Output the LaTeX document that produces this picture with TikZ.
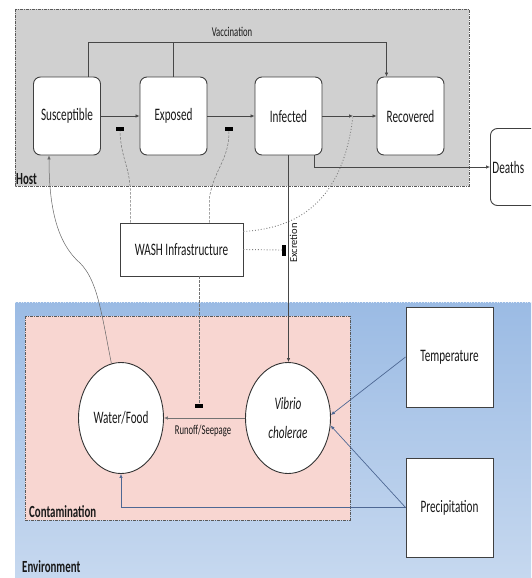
\documentclass[tikz,border=0pt]{standalone}
\usepackage{fontspec}
\setmainfont{Carlito}[FakeStretch=0.64]
\newfontfamily\plainfont{Carlito}
\usetikzlibrary{arrows.meta,calc,shapes.geometric}
\definecolor{hostgray}{RGB}{208,208,208}
\definecolor{envtop}{RGB}{155,187,228}
\definecolor{envbot}{RGB}{198,216,239}
\definecolor{contpink}{RGB}{248,214,209}
\definecolor{envline}{RGB}{78,104,148}
\definecolor{txt}{RGB}{25,25,25}
\begin{document}
\begin{tikzpicture}[x=1pt,y=-1pt,
  every node/.style={text=txt},
  state/.style={draw=black!75, line width=0.9pt, rounded corners=7pt, fill=white,
    minimum width=67, minimum height=78, inner sep=2pt, font=\fontsize{17.5}{20}\selectfont},
  box/.style={draw=black!75, line width=0.9pt, fill=white, inner sep=2pt,
    font=\fontsize{17.5}{20}\selectfont},
  circ/.style={ellipse, draw=black!80, line width=0.9pt, fill=white, minimum width=85,
    minimum height=111, inner sep=0pt, font=\fontsize{17.5}{20}\selectfont},
  bar/.style={fill=black, draw=none, minimum width=8, minimum height=3.6, inner sep=0pt},
  arr/.style={-{Latex[length=4pt,width=3.5pt]}, draw=black!72, line width=0.65pt},
  dashline/.style={dash pattern=on 2.5pt off 1.5pt, draw=black!55, line width=0.5pt},
  dotline/.style={dotted, draw=black!50, line width=0.9pt},
  envarr/.style={-{Latex[length=4pt,width=3.5pt]}, draw=envline, line width=0.7pt},
  region/.style={draw=black!65, line width=0.7pt, dash pattern=on 3pt off 1pt on 1pt off 1pt},
  lbl/.style={font=\bfseries\fontsize{17}{19}\selectfont, inner sep=1pt}
]
\useasboundingbox (0,0) rectangle (531,578);
\clip (0,0) rectangle (531,578);
\fill[white] (0,0) rectangle (531,578);

% regions
\draw[region, fill=hostgray] (15,9) rectangle (469,186);
\shade[top color=envtop, bottom color=envbot] (15,302) rectangle (531,578);
\draw[dotted, draw=white!70!envtop, line width=0.8pt] (15,302) -- (531,302);
\draw[region, fill=contpink] (25,316) rectangle (350,520);

\node[lbl, anchor=south west] (hostl) at (15,186) {Host};
\node[lbl, anchor=south west] (contl) at (28,519) {Contamination};
\node[lbl, anchor=south west] (envl) at (21,574) {Environment};

% host nodes
\node[state] (sus) at (67,116) {Susceptible};
\node[state] (exp) at (173.5,116) {Exposed};
\node[state] (inf) at (288.5,116) {Infected};
\node[state] (rec) at (410.5,116) {Recovered};
\node[state, anchor=west, text width=66, align=left, minimum height=77] (dea) at (490,167) {Deaths};

% other nodes
\node[box, minimum width=123, minimum height=53] (wash) at (181.5,249.5) {WASH Infrastructure};
\node[box, minimum width=87, minimum height=100] (temp) at (449.5,357) {Temperature};
\node[box, minimum width=87, minimum height=99] (prec) at (449.5,507.5) {Precipitation};
\node[circ] (wf) at (121,418) {Water/Food};
\node[circ, align=center, font=\itshape\fontsize{17.5}{29}\selectfont] (vib) at (288,418) {Vibrio\\cholerae};

% vaccination
\node[font=\fontsize{13.5}{15}\selectfont, inner sep=1pt] (vacl) at (232,32) {Vaccination};
\coordinate (vtop) at (0,42);
\coordinate (rv) at ([xshift=-24pt]rec.north);
\draw[arr] ([xshift=21pt]sus.north) |- (vtop -| rv) -- (rv);
\draw[draw=black!72, line width=0.65pt] (exp.north) -- (exp.north |- vtop);

% main flow
\coordinate (J) at (353,116);
\draw[arr] (sus.east) -- (exp.west);
\draw[arr] (exp.east) -- (inf.west);
\draw[arr] (inf.east) -- (J);
\draw[arr] (J) -- (rec.west);
\draw[arr] ([xshift=26pt]inf.south) |- (dea.west);

% inhibition bars
\node[bar] (b1) at (120,129) {};
\node[bar] (b2) at (229,129) {};
\node[bar, minimum width=3.2, minimum height=11] (b3) at (284,250) {};
\node[bar] (b4) at (199,406) {};

% WASH influences
\draw[dashline] ([xshift=-51pt]wash.north) -- ++(0,-26) .. controls ++(0,-30) and (121,160) .. (b1.south);
\draw[dashline] ([xshift=28pt]wash.north) -- ++(0,-26) .. controls ++(6,-30) and (229,160) .. (b2.south);
\draw[dotline] ([yshift=18pt]wash.east) .. controls (300,228) and (343,200) .. (J);
\draw[dotline] (wash.east) -- (b3.west);
\draw[dashline] ([xshift=17.5pt]wash.south) -- (b4.north);

% excretion
\draw[arr] (inf.south) -- (inf.south |- vib.north);
\node[rotate=90, font=\plainfont\fontsize{10.5}{12}\selectfont, inner sep=0pt] (exl) at (293.5,243) {Excretion};

% feedback to susceptible
\draw[-{Latex[length=4pt,width=3.5pt]}, draw=black!60, line width=0.5pt] (wf.100) .. controls (101,310) and (97,280) .. (80,263) .. controls (56,242) and (49,205) .. ([xshift=-18pt]sus.south);

% runoff
\draw[arr, draw=black!55] (vib.west) -- (wf.east);
\node[font=\fontsize{13.5}{15}\selectfont, inner sep=1pt] (rsl) at (203,431) {Runoff/Seepage};

% environment drivers
\draw[envarr] (temp.west) -- (vib.4);
\draw[envarr] (prec.west) -- (vib.-10);
\draw[envarr] (prec.west) -| (wf.south);
\end{tikzpicture}
\end{document}
